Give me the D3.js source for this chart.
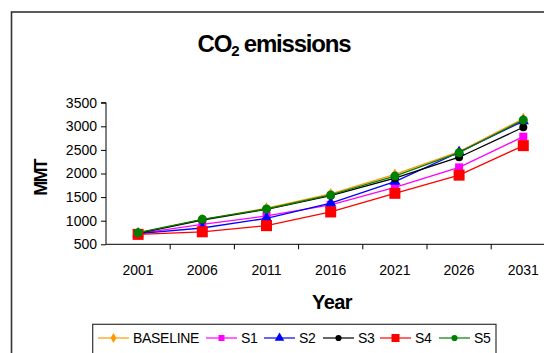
<!DOCTYPE html>
<html>
<head>
<meta charset="utf-8">
<script src="https://cdn.jsdelivr.net/npm/d3@7"></script>
<style>
  html, body { margin: 0; padding: 0; background: #fff; }
  svg { display: block; font-family: "Liberation Sans", Arial, sans-serif; }
</style>
</head>
<body>
<svg id="chart" width="544" height="353"></svg>
<script>
// CO2 emission projections (MMT) by scenario
const years = ["2001", "2006", "2011", "2016", "2021", "2026", "2031"];
const baseline = [740, 1025, 1265, 1570, 1980, 2465, 3160];
const s1 = [725, 920, 1100, 1335, 1705, 2130, 2780];
const s2 = [725, 845, 1050, 1370, 1830, 2450, 3110];
const s3 = [730, 1015, 1240, 1530, 1900, 2345, 2980];
const s4 = [710, 765, 895, 1185, 1580, 1965, 2590];
const s5 = [745, 1030, 1248, 1545, 1945, 2440, 3135];
const yTicks = [500, 1000, 1500, 2000, 2500, 3000, 3500];

const series = [
  { name: "BASELINE", values: baseline, color: "#FF9900", symbol: d3.symbolDiamond, size: 40, legendSize: 30 },
  { name: "S1", values: s1, color: "#FF00FF", symbol: d3.symbolSquare, size: 64, legendSize: 36 },
  { name: "S2", values: s2, color: "#0000FF", symbol: d3.symbolTriangle, size: 55, legendSize: 40 },
  { name: "S3", values: s3, color: "#000000", symbol: d3.symbolCircle, size: 50, legendSize: 30 },
  { name: "S4", values: s4, color: "#FF0000", symbol: d3.symbolSquare, size: 121, legendSize: 64 },
  { name: "S5", values: s5, color: "#008000", symbol: d3.symbolCircle, size: 64, legendSize: 30 }
];

const svg = d3.select("#chart");

// chart frame (runs off the right and bottom edges)
svg.append("rect")
  .attr("x", 11.5).attr("y", 12).attr("width", 560).attr("height", 360)
  .attr("fill", "none").attr("stroke", "#333").attr("stroke-width", 1.6);

// title with subscript
const title = svg.append("text")
  .attr("x", 274).attr("y", 52)
  .attr("text-anchor", "middle")
  .attr("font-size", 24).attr("font-weight", "bold").attr("letter-spacing", -1.2);
title.append("tspan").text("CO");
title.append("tspan").attr("font-size", 15).attr("dy", 4).text("2");
title.append("tspan").attr("dy", -4).text(" emissions");

const plotLeft = 106, plotRight = 555.4, plotTop = 102.7, plotBottom = 244.3;

const x = d3.scaleBand().domain(years).range([plotLeft, plotRight]);
const y = d3.scaleLinear().domain([500, 3500]).range([plotBottom, plotTop]);

// y axis
const yAxis = svg.append("g")
  .attr("transform", `translate(${plotLeft},0)`)
  .call(d3.axisLeft(y).tickValues(yTicks).tickSize(5).tickPadding(4).tickFormat(d3.format("d")));
yAxis.select(".domain").attr("stroke", "#000").attr("d", `M-5,${y(3500)}H0V${y(500)}`);
yAxis.selectAll("text").attr("font-size", 14).attr("fill", "#000").attr("font-family", "Liberation Sans, Arial, sans-serif");

// x axis: ticks sit between categories
const xAxis = svg.append("g").attr("transform", `translate(0,${plotBottom})`);
xAxis.append("line").attr("x1", plotLeft).attr("x2", plotRight).attr("stroke", "#000");
xAxis.selectAll("line.tick")
  .data(years)
  .join("line")
  .attr("class", "tick")
  .attr("x1", d => x(d) + x.bandwidth())
  .attr("x2", d => x(d) + x.bandwidth())
  .attr("y1", 0).attr("y2", 5).attr("stroke", "#000");
xAxis.selectAll("text")
  .data(years)
  .join("text")
  .attr("x", d => x(d) + x.bandwidth() / 2)
  .attr("y", 30.5)
  .attr("text-anchor", "middle")
  .attr("font-size", 14)
  .text(d => d);

// axis titles
svg.append("text")
  .attr("transform", "translate(47,178) rotate(-90)")
  .attr("text-anchor", "middle")
  .attr("font-size", 18).attr("font-weight", "bold").attr("letter-spacing", -1.8)
  .text("MMT");
svg.append("text")
  .attr("x", 332).attr("y", 309)
  .attr("text-anchor", "middle")
  .attr("font-size", 20).attr("font-weight", "bold").attr("letter-spacing", -0.6)
  .text("Year");

// series lines and markers
const line = d3.line()
  .x((d, i) => x(years[i]) + x.bandwidth() / 2)
  .y(d => y(d));

series.forEach(s => {
  const g = svg.append("g");
  g.append("path")
    .attr("d", line(s.values))
    .attr("fill", "none").attr("stroke", s.color).attr("stroke-width", 1.3);
  g.selectAll("path.m")
    .data(s.values)
    .join("path")
    .attr("class", "m")
    .attr("transform", (d, i) => `translate(${x(years[i]) + x.bandwidth() / 2},${y(d)})`)
    .attr("d", d3.symbol().type(s.symbol).size(s.size))
    .attr("fill", s.color);
});

// legend
svg.append("rect")
  .attr("x", 92.7).attr("y", 324.3).attr("width", 403.3).attr("height", 40)
  .attr("fill", "#fff").attr("stroke", "#333").attr("stroke-width", 1.2);

const legendX = [98, 206, 264, 323, 380, 439];
const lg = svg.append("g");
series.forEach((s, i) => {
  const x0 = legendX[i];
  lg.append("line")
    .attr("x1", x0).attr("x2", x0 + 31).attr("y1", 338).attr("y2", 338)
    .attr("stroke", s.color).attr("stroke-width", 1.2);
  lg.append("path")
    .attr("transform", `translate(${x0 + 15.5},338)`)
    .attr("d", d3.symbol().type(s.symbol).size(s.legendSize))
    .attr("fill", s.color);
  lg.append("text")
    .attr("x", x0 + 35).attr("y", 343)
    .attr("font-size", 14).attr("letter-spacing", -0.3)
    .text(s.name);
});
</script>
</body>
</html>
